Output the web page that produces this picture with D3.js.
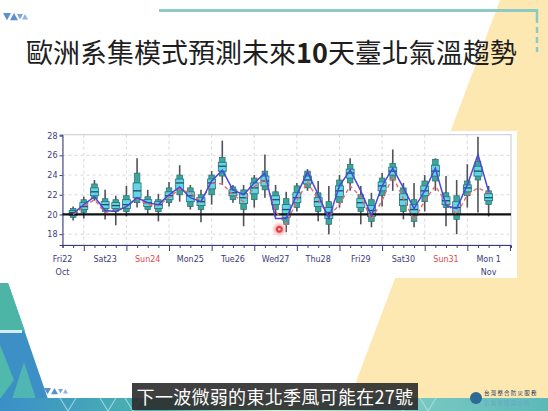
<!DOCTYPE html>
<html><head><meta charset="utf-8">
<script src="https://cdn.jsdelivr.net/npm/d3@7"></script>
<style>html,body{margin:0;padding:0;background:#fff;}svg{display:block;}</style>
</head><body>
<script>
// ---------- data (6-hourly steps after Fri 22 Oct 00) ----------
const steps = d3.range(1, 41);
const tMin = [19.4,19.6,21.4,19.5,18.9,19.8,20.7,20.0,19.3,20.8,21.3,20.5,19.2,21.0,23.0,21.2,18.8,20.7,21.7,19.8,18.2,20.3,22.4,19.3,18.0,20.7,22.4,19.0,18.7,20.8,22.4,19.5,18.7,20.3,22.4,18.8,18.0,20.7,20.2,19.8];
const tP10 = [19.7,20.2,21.6,20.3,20.3,20.3,21.2,20.5,20.3,21.2,22.0,20.8,20.5,22.0,23.9,21.5,20.5,21.5,22.5,20.5,19.0,20.7,22.7,20.3,19.0,21.2,23.2,20.3,19.3,21.9,23.5,20.3,19.3,21.3,23.4,20.7,19.5,21.9,23.5,21.0];
const tP25 = [19.9,20.5,21.9,20.6,20.6,20.6,21.7,20.8,20.6,21.5,22.5,21.3,20.9,22.6,24.4,21.9,21.1,22.1,22.9,21.0,19.7,21.2,23.1,20.8,19.6,21.8,23.7,20.7,19.8,22.4,24.0,20.9,19.9,21.9,23.9,21.0,20.1,22.3,23.9,21.4];
const tMed = [20.2,20.8,22.3,21.0,20.9,21.0,22.4,21.2,21.0,21.9,23.2,21.9,21.3,23.2,24.9,22.2,21.7,22.7,23.4,21.5,20.5,21.7,23.5,21.3,20.2,22.4,24.2,21.2,20.4,22.9,24.4,21.5,20.5,22.4,24.4,21.4,20.7,22.7,24.4,21.7];
const tP75 = [20.4,21.2,22.7,21.3,21.2,21.5,23.2,21.5,21.3,22.3,23.6,22.3,21.7,23.6,25.3,22.5,22.1,23.2,23.9,21.9,21.0,22.2,23.9,21.7,20.7,22.9,24.6,21.6,20.9,23.3,24.8,22.1,21.0,22.9,25.0,21.8,21.3,23.0,24.9,22.1];
const tP90 = [20.6,21.5,23.1,21.6,21.5,21.9,24.2,21.8,21.5,22.7,24.0,22.7,22.0,24.0,25.8,22.8,22.5,23.7,24.4,22.3,21.6,22.9,24.4,22.2,21.3,23.5,25.1,22.0,21.5,23.7,25.2,22.7,21.5,23.4,25.6,22.2,21.9,23.4,25.4,22.4];
const tMax = [20.8,21.8,23.5,22.5,21.9,22.9,25.7,22.5,22.1,23.3,25.0,23.0,22.5,24.4,27.5,23.0,23.0,24.0,26.1,23.0,22.3,23.2,24.6,23.4,22.9,24.0,25.7,22.9,22.2,24.2,26.6,23.2,23.2,24.0,25.7,23.9,23.5,25.1,27.9,22.9];
const hres = [20.1,21.0,21.8,20.4,20.3,20.8,21.7,21.2,21.0,22.0,22.8,21.7,21.3,23.4,24.5,22.5,22.0,23.2,24.2,19.6,19.6,22.0,24.3,22.0,19.6,22.9,24.5,22.4,19.9,22.9,24.7,22.7,20.6,22.4,24.7,20.9,20.6,23.0,26.1,22.3];
const ctrl = [20.0,20.8,21.5,20.2,20.4,20.8,21.6,21.0,20.9,21.7,22.6,22.2,21.3,23.2,23.1,22.0,21.3,22.8,23.6,20.3,19.0,21.4,23.3,21.5,19.8,21.0,22.9,21.8,19.5,21.4,23.9,21.6,19.4,21.4,22.9,21.2,20.0,22.0,22.7,22.2];
const dayLabels = ["Fri22","Sat23","Sun24","Mon25","Tue26","Wed27","Thu28","Fri29","Sat30","Sun31","Mon 1"];
const dayColors = ["#3b3b7a","#3b3b7a","#e0474c","#3b3b7a","#3b3b7a","#3b3b7a","#3b3b7a","#3b3b7a","#3b3b7a","#e0474c","#3b3b7a"];
const monthLabels = [{day:0,text:"Oct"},{day:10,text:"Nov"}];
const yTicks = [18,20,22,24,26,28];
const title1 = "歐洲系集模式預測未來", titleNum = "10", title2 = "天臺北氣溫趨勢";
const subtitle = "下一波微弱的東北季風可能在27號";

const W = 548, H = 411;
const svg = d3.select("body").append("svg").attr("width", W).attr("height", H);
const defs = svg.append("defs");

// ---------- slide background ----------
svg.append("rect").attr("width", W).attr("height", H).attr("fill", "#fff");
svg.append("polygon").attr("points", "500,0 548,0 548,411 345,411").attr("fill", "#fde8b2");

// top teal bracket line
svg.append("line").attr("x1", 159).attr("x2", 538).attr("y1", 10.5).attr("y2", 10.5).attr("stroke", "#8ccac3").attr("stroke-width", 3);
svg.append("line").attr("x1", 537).attr("x2", 537).attr("y1", 9).attr("y2", 52).attr("stroke", "#8ccac3").attr("stroke-width", 2.5).attr("stroke-dasharray", "14,4,6,4,6,4");

// small triangles top-left
const tri = (g, x, y, s, down, col) => {
  const pts = down ? [[x, y], [x + s, y], [x + s / 2, y + s * 0.9]] : [[x, y + s * 0.9], [x + s, y + s * 0.9], [x + s / 2, y]];
  g.append("polygon").attr("points", pts.map(p => p.join(",")).join(" ")).attr("fill", col);
};
const tl = svg.append("g");
tri(tl, 3, 13, 8, true, "#5b8fd3"); tri(tl, 10, 13, 8, false, "#5b8fd3"); tri(tl, 17, 14, 6, true, "#7aa6de"); tri(tl, 22, 14, 6, false, "#8eb5e6");

// title
const tt = svg.append("text").attr("x", 26).attr("y", 63).attr("font-family", "'Noto Sans CJK TC','Noto Sans CJK SC',sans-serif").attr("font-size", 27).attr("fill", "#1e1e1e");
tt.append("tspan").text(title1);
tt.append("tspan").attr("font-weight", "bold").text(titleNum);
tt.append("tspan").text(title2);

// left bottom decoration
const grad = defs.append("linearGradient").attr("id", "strip").attr("x1", 0).attr("x2", 1).attr("y1", 0).attr("y2", 0);
[[0, "#3a8fc8"], [0.3, "#4db6ae"], [0.5, "#c6f4d6"], [0.72, "#7ecbc3"], [1, "#5cb9b8"]].forEach(([o, c]) => grad.append("stop").attr("offset", o).attr("stop-color", c));
svg.append("polygon").attr("points", "0,283 8,283 48,399 0,399").attr("fill", "#3c90c6");
svg.append("polygon").attr("points", "0,283 8,283 25,331 0,331").attr("fill", "#4cb5a6");
svg.append("rect").attr("x", 0).attr("y", 330).attr("width", 22).attr("height", 3).attr("fill", "#d6ecf6");
svg.append("polygon").attr("points", "0,345 14,380 0,399").attr("fill", "#4fb9ab");
svg.append("polygon").attr("points", "12,399 24,362 36,399").attr("fill", "#55bfae").attr("opacity", 0.8);
svg.append("rect").attr("x", 0).attr("y", 398).attr("width", W).attr("height", 13).attr("fill", "url(#strip)");
const st = svg.append("g").attr("fill", "none").attr("stroke", "#b9e6ea").attr("stroke-width", 1.2).attr("opacity", 0.7);
[[60, 398], [100, 398], [125, 398], [395, 398], [420, 398]].forEach(([x, y]) => st.append("polyline").attr("points", `${x},${y} ${x + 8},${y + 13} ${x + 16},${y}`));
const bt = svg.append("g");
tri(bt, 44, 388, 7, true, "#5b8fd3"); tri(bt, 51, 388, 7, false, "#5b8fd3"); tri(bt, 58, 389, 5, true, "#7aa6de"); tri(bt, 63, 389, 5, false, "#8eb5e6");

// ---------- chart panel ----------
svg.append("rect").attr("x", 40).attr("y", 131).attr("width", 477).attr("height", 147).attr("fill", "#fff");

const x = d3.scaleLinear().domain([0, 42.1]).range([62.5, 511]);
const y = d3.scaleLinear().domain([16.9, 28.1]).range([245, 134.7]);
const g = svg.append("g");

// grid
g.selectAll(".hg").data([18, 22, 24, 26]).join("line").attr("x1", x(0)).attr("x2", x(42.1)).attr("y1", d => y(d)).attr("y2", d => y(d))
  .attr("stroke", "#cfcfd6").attr("stroke-width", 0.8).attr("stroke-dasharray", "3,3");
g.selectAll(".vg").data(d3.range(2, 42, 4)).join("line").attr("x1", d => x(d)).attr("x2", d => x(d)).attr("y1", y(28.1)).attr("y2", y(16.9))
  .attr("stroke", "#cfcfd6").attr("stroke-width", 0.8).attr("stroke-dasharray", "3,3");

// frame
g.append("rect").attr("x", x(0)).attr("y", y(28.1)).attr("width", x(42.1) - x(0)).attr("height", y(16.9) - y(28.1)).attr("fill", "none").attr("stroke", "#c9c9cf").attr("stroke-width", 1);

// axes
const yAxis = d3.axisLeft(y).tickValues(yTicks).tickSize(3).tickPadding(2).tickFormat(d3.format("d"));
const ya = g.append("g").attr("transform", `translate(${x(0)},0)`).call(yAxis);
ya.select(".domain").attr("stroke", "#3b3b7a");
ya.selectAll(".tick line").attr("stroke", "#3b3b7a");
ya.selectAll("text").attr("font-family", "'DejaVu Sans',sans-serif").attr("font-size", 8).attr("fill", "#3b3b7a");

const xAxis = d3.axisBottom(x).tickValues(d3.range(0, 43)).tickSize(3).tickFormat("");
const xa = g.append("g").attr("transform", `translate(0,${y(16.9)})`).call(xAxis);
xa.select(".domain").attr("stroke", "#3b3b7a");
xa.selectAll(".tick line").attr("stroke", "#3b3b7a").attr("y2", d => (d % 4 === 2 ? 6 : 3));
g.selectAll(".dl").data(dayLabels).join("text").attr("x", (d, i) => x(i * 4)).attr("y", 262).attr("text-anchor", "middle")
  .attr("font-family", "'DejaVu Sans',sans-serif").attr("font-size", 8).attr("fill", (d, i) => dayColors[i]).text(d => d);
g.selectAll(".ml").data(monthLabels).join("text").attr("x", d => x(d.day * 4)).attr("y", 275).attr("text-anchor", "middle")
  .attr("font-family", "'DejaVu Sans',sans-serif").attr("font-size", 8).attr("fill", "#3b3b7a").text(d => d.text);

// boxes
const data = steps.map((s, i) => ({ s, mn: tMin[i], p10: tP10[i], p25: tP25[i], md: tMed[i], p75: tP75[i], p90: tP90[i], mx: tMax[i] }));
const bx = g.append("g");
bx.selectAll(".wh").data(data).join("line").attr("x1", d => x(d.s)).attr("x2", d => x(d.s)).attr("y1", d => y(d.mx)).attr("y2", d => y(d.mn))
  .attr("stroke", "#4f5358").attr("stroke-width", 1.6);
bx.selectAll(".b10").data(data).join("rect").attr("x", d => x(d.s) - 2.8).attr("width", 5.6).attr("y", d => y(d.p90)).attr("height", d => y(d.p10) - y(d.p90))
  .attr("fill", "#3aa899").attr("stroke", "#2b6b78").attr("stroke-width", 0.7);
bx.selectAll(".b25").data(data).join("rect").attr("x", d => x(d.s) - 4).attr("width", 8).attr("y", d => y(d.p75)).attr("height", d => y(d.p25) - y(d.p75))
  .attr("fill", "#62d6e4").attr("stroke", "#2b6b78").attr("stroke-width", 0.8);
bx.selectAll(".md").data(data).join("line").attr("x1", d => x(d.s) - 4).attr("x2", d => x(d.s) + 4).attr("y1", d => y(d.md)).attr("y2", d => y(d.md))
  .attr("stroke", "#234e63").attr("stroke-width", 1.3);

// reference line at 20
g.append("line").attr("x1", x(0)).attr("x2", x(42.1)).attr("y1", y(20)).attr("y2", y(20)).attr("stroke", "#111").attr("stroke-width", 2.2);

// control (red dashed) and HRES (blue)
const line = d3.line().x((d, i) => x(steps[i])).y(d => y(d));
g.append("path").attr("d", line(ctrl)).attr("fill", "none").attr("stroke", "#e86b6b").attr("stroke-width", 1.4).attr("stroke-dasharray", "4,3");
g.append("path").attr("d", line(hres)).attr("fill", "none").attr("stroke", "#4a48d6").attr("stroke-width", 1.5);

// red annotation dot
const rg = defs.append("radialGradient").attr("id", "glow");
[[0, "#e23b3b", 1], [0.35, "#e23b3b", 1], [0.5, "#f7b0b0", 0.9], [1, "#fbd2d2", 0]].forEach(([o, c, op]) => rg.append("stop").attr("offset", o).attr("stop-color", c).attr("stop-opacity", op));
svg.append("circle").attr("cx", 279.3).attr("cy", 229.3).attr("r", 8).attr("fill", "url(#glow)");
svg.append("circle").attr("cx", 279.3).attr("cy", 229.3).attr("r", 1.3).attr("fill", "#fbd0d0");

// ---------- subtitle & logo ----------
svg.append("rect").attr("x", 132).attr("y", 383).attr("width", 286).attr("height", 27).attr("fill", "#2b2b2b").attr("opacity", 0.9);
svg.append("text").attr("x", 275).attr("y", 403.5).attr("text-anchor", "middle").attr("font-family", "'Noto Sans CJK TC','Noto Sans CJK SC',sans-serif")
  .attr("font-size", 18).attr("fill", "#fff").attr("letter-spacing", 0.3).text(subtitle);
svg.append("circle").attr("cx", 476).attr("cy", 398).attr("r", 6).attr("fill", "#2d6a95");
svg.append("text").attr("x", 484).attr("y", 395).attr("font-family", "'Noto Sans CJK TC',sans-serif").attr("font-size", 5.5).attr("fill", "#26355a").attr("letter-spacing", 1.2).text("台灣整合防災服務");
svg.append("text").attr("x", 484).attr("y", 404.5).attr("font-family", "'Noto Sans CJK TC',sans-serif").attr("font-size", 5.5).attr("fill", "#6aa6c8").attr("letter-spacing", 1.2).text("氣象預報與災防");
</script>
</body></html>
